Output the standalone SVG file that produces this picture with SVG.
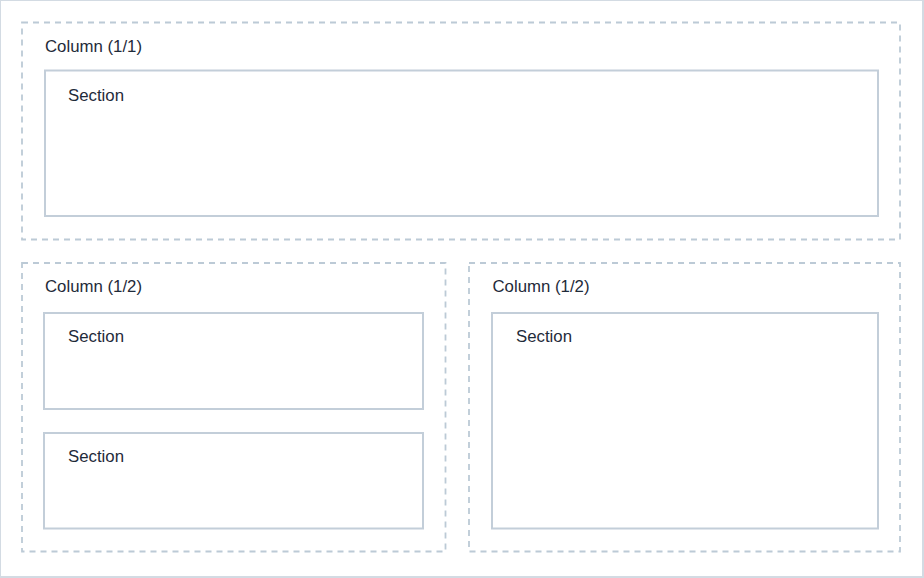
<svg xmlns="http://www.w3.org/2000/svg" width="924" height="578" viewBox="0 0 924 578">
<style>
.bg{fill:#ffffff;stroke:#d3dbe3;stroke-width:2}
.col{fill:none;stroke:#bccad6;stroke-width:1.8;stroke-dasharray:6 5}
.sec{fill:#ffffff;stroke:#c3ced9;stroke-width:2}
.lbl{font-family:"Liberation Sans","DejaVu Sans",sans-serif;font-size:16.8px;fill:#1f2b3a}
</style>
<rect class="bg" x="0" y="0" width="923" height="577"/>
<g id="column-1">
<rect class="col" x="22" y="22.5" width="878" height="217"/>
<text class="lbl" x="45" y="51.5">Column (1/1)</text>
</g>
<g id="section-1">
<rect class="sec" x="45" y="70.5" width="833" height="145.5"/>
<text class="lbl" x="68" y="101">Section</text>
</g>
<g id="column-2">
<rect class="col" x="22" y="263" width="423.5" height="288.5"/>
<text class="lbl" x="45" y="292">Column (1/2)</text>
</g>
<g id="section-2">
<rect class="sec" x="44" y="313" width="379" height="96"/>
<text class="lbl" x="68" y="342">Section</text>
</g>
<g id="section-3">
<rect class="sec" x="44" y="433" width="379" height="95.5"/>
<text class="lbl" x="68" y="462">Section</text>
</g>
<g id="column-3">
<rect class="col" x="469" y="263" width="431" height="288.5"/>
<text class="lbl" x="492.5" y="292">Column (1/2)</text>
</g>
<g id="section-4">
<rect class="sec" x="492" y="313" width="386" height="215.5"/>
<text class="lbl" x="516" y="342">Section</text>
</g>
<g id="connectors"></g>
</svg>
